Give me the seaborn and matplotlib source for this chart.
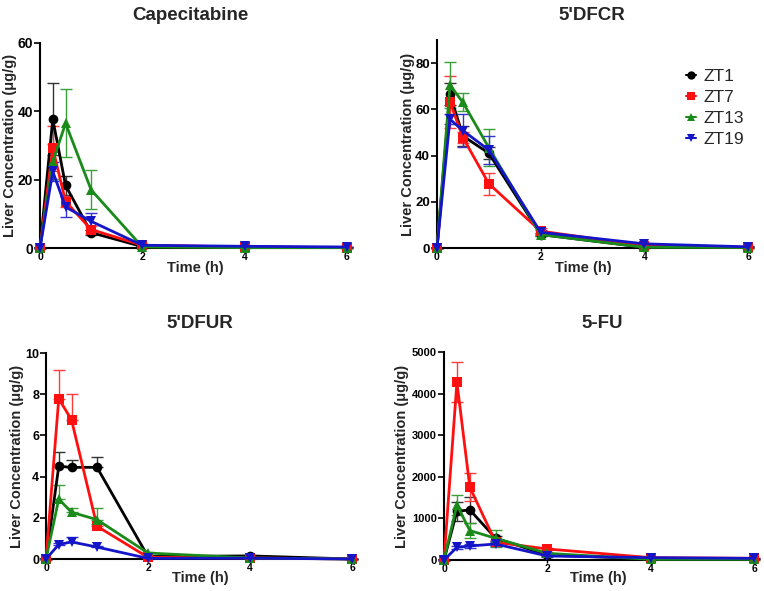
import numpy as np
import pandas as pd
import matplotlib
matplotlib.use("Agg")
import matplotlib.pyplot as plt
from matplotlib.lines import Line2D
import seaborn as sns

# ---------------- data ----------------
times = [0, 0.25, 0.5, 1, 2, 4, 6]
groups = ["ZT1", "ZT7", "ZT13", "ZT19"]

cap_zt1 = [0, 37.7, 18.3, 4.5, 0.4, 0.3, 0.1]
cap_zt7 = [0, 29.2, 13.6, 5.4, 0.8, 0.3, 0.1]
cap_zt13 = [0, 25.3, 36.5, 17.0, 0.3, 0.1, 0.1]
cap_zt19 = [0, 22.4, 12.0, 7.8, 0.8, 0.5, 0.3]
cap_err1 = [0, 10.6, 2.7, 0.8, 0.2, 0.1, 0.05]
cap_err7 = [0, 6.6, 1.5, 0.9, 0.3, 0.1, 0.05]
cap_err13 = [0, 5.0, 10.0, 5.7, 0.2, 0.05, 0.05]
cap_err19 = [0, 2.9, 3.0, 2.4, 0.3, 0.2, 0.1]

dfcr_zt1 = [0, 66.6, 48.5, 41.0, 5.8, 0.3, 0.2]
dfcr_zt7 = [0, 63.2, 47.8, 27.8, 7.3, 1.0, 0.3]
dfcr_zt13 = [0, 70.5, 63.0, 43.4, 5.8, 0.3, 0.2]
dfcr_zt19 = [0, 55.7, 50.8, 42.4, 6.8, 1.8, 0.5]
dfcr_err1 = [0, 4.8, 4.5, 2.5, 0.8, 0.2, 0.1]
dfcr_err7 = [0, 11.3, 2.5, 4.8, 1.2, 0.3, 0.1]
dfcr_err13 = [0, 10.0, 3.9, 8.0, 0.8, 0.1, 0.1]
dfcr_err19 = [0, 2.2, 7.1, 6.1, 1.0, 0.5, 0.2]

dfur_zt1 = [0, 4.5, 4.45, 4.45, 0.12, 0.15, 0.0]
dfur_zt7 = [0, 7.78, 6.76, 1.59, 0.08, 0.05, 0.0]
dfur_zt13 = [0, 2.91, 2.27, 1.91, 0.29, 0.05, 0.0]
dfur_zt19 = [0, 0.70, 0.83, 0.58, 0.03, 0.04, 0.0]
dfur_err1 = [0, 0.7, 0.37, 0.5, 0.03, 0.03, 0]
dfur_err7 = [0, 1.41, 1.27, 0.1, 0.02, 0.02, 0]
dfur_err13 = [0, 0.69, 0.21, 0.57, 0.03, 0.02, 0]
dfur_err19 = [0, 0.08, 0.22, 0.05, 0.02, 0.01, 0]

fu_zt1 = [0, 1170, 1204, 522, 120, 25, 20]
fu_zt7 = [0, 4272, 1750, 425, 265, 56, 40]
fu_zt13 = [0, 1325, 707, 522, 160, 16, 16]
fu_zt19 = [0, 305, 337, 385, 96, 56, 40]
fu_err1 = [0, 230, 322, 60, 20, 5, 5]
fu_err7 = [0, 482, 338, 60, 30, 10, 5]
fu_err13 = [0, 241, 176, 201, 30, 5, 5]
fu_err19 = [0, 40, 50, 40, 15, 10, 5]

titles = ["Capecitabine", "5'DFCR", "5'DFUR", "5-FU"]
x_ticks = [0, 2, 4, 6]
y_ticks = [[0, 20, 40, 60], [0, 20, 40, 60, 80], [0, 2, 4, 6, 8, 10],
           [0, 1000, 2000, 3000, 4000, 5000]]
y_max = [60, 90, 10, 5000]

panel_means = [
    [cap_zt1, cap_zt7, cap_zt13, cap_zt19],
    [dfcr_zt1, dfcr_zt7, dfcr_zt13, dfcr_zt19],
    [dfur_zt1, dfur_zt7, dfur_zt13, dfur_zt19],
    [fu_zt1, fu_zt7, fu_zt13, fu_zt19],
]
panel_errs = [
    [cap_err1, cap_err7, cap_err13, cap_err19],
    [dfcr_err1, dfcr_err7, dfcr_err13, dfcr_err19],
    [dfur_err1, dfur_err7, dfur_err13, dfur_err19],
    [fu_err1, fu_err7, fu_err13, fu_err19],
]

# ---------------- style ----------------
sns.set_theme(style="ticks")
plt.rcParams["font.family"] = ["Liberation Sans", "DejaVu Sans"]

colors = {"ZT1": "#000000", "ZT7": "#ff1010", "ZT13": "#1a8a1a", "ZT19": "#1515c8"}
err_colors = {"ZT1": "#333333", "ZT7": "#ff3a3a", "ZT13": "#3aa03a", "ZT19": "#3535d0"}
markers = {"ZT1": "o", "ZT7": "s", "ZT13": "^", "ZT19": "v"}

W, H = 764, 591
fig = plt.figure(figsize=(W / 100, H / 100), dpi=100)

# pixel boxes: left, right, top, bottom
boxes = [(40, 347, 43, 248), (437, 748, 40, 248), (46, 352, 353, 559), (444, 754, 352, 560)]
title_pos = [(190, 15), (592, 15), (200, 323), (602, 323)]
xlabel_pos = [(195, 268), (583, 268), (200, 578), (598, 578)]
ylabel_x = [10, 408, 17, 402]
ytick_size = [10, 9.5, 9, 8]
upper_only = [False, False, True, False]

for i in range(4):
    l, r, t, b = boxes[i]
    ax = fig.add_axes([l / W, 1 - b / H, (r - l) / W, (b - t) / H])
    rows = []
    for g, vals in zip(groups, panel_means[i]):
        for tt, v in zip(times, vals):
            rows.append({"Time": tt, "Conc": v, "Group": g})
    df = pd.DataFrame(rows)

    for g, vals, errs in zip(groups, panel_means[i], panel_errs[i]):
        lower = np.zeros(len(errs)) if upper_only[i] else np.array(errs)
        ax.errorbar(times, vals, yerr=[lower, np.array(errs)], fmt="none",
                    ecolor=err_colors[g], elinewidth=1.0, capsize=4, capthick=1.0,
                    zorder=2, clip_on=False)

    sns.lineplot(data=df, x="Time", y="Conc", hue="Group", style="Group",
                 hue_order=groups, style_order=groups, palette=colors,
                 markers=markers, dashes=False, linewidth=2.0, markersize=7,
                 markeredgewidth=0, ax=ax, legend=False, zorder=3, clip_on=False)

    ax.set_xlim(0, 6)
    ax.set_ylim(0, y_max[i])
    ax.set_xticks(x_ticks)
    ax.set_yticks(y_ticks[i])
    ax.set_xticklabels([str(v) for v in x_ticks], fontsize=7.5, fontweight="bold")
    ax.set_yticklabels([str(v) for v in y_ticks[i]], fontsize=ytick_size[i], fontweight="bold")
    ax.tick_params(axis="y", length=4, width=1.2, pad=1, colors="black")
    ax.tick_params(axis="x", length=2, width=1.0, pad=1, colors="black")
    for s in ["left", "bottom"]:
        ax.spines[s].set_linewidth(1.5)
        ax.spines[s].set_color("black")
    sns.despine(ax=ax)
    ax.set_xlabel("")
    ax.set_ylabel("")
    ax.set_facecolor("none")

    fig.text(title_pos[i][0] / W, 1 - title_pos[i][1] / H, titles[i],
             ha="center", va="center", fontsize=13.5, fontweight="bold")
    fig.text(xlabel_pos[i][0] / W, 1 - xlabel_pos[i][1] / H, "Time (h)",
             ha="center", va="center", fontsize=10.5, fontweight="bold")
    fig.text(ylabel_x[i] / W, 1 - ((t + b) / 2) / H, "Liver Concentration (\u03bcg/g)",
             ha="center", va="center", rotation=90, fontsize=10.5, fontweight="bold")

    if i == 1:
        handles = [Line2D([], [], color=colors[g], marker=markers[g], linestyle="-",
                          linewidth=1.5, markersize=6, markeredgewidth=0) for g in groups]
        ax.legend(handles, groups, loc="upper left",
                  bbox_to_anchor=((686 - l) / (r - l), 1 - (69 - t) / (b - t)),
                  frameon=False, fontsize=12.5, handlelength=0.6, handletextpad=0.4,
                  labelspacing=0.33, borderaxespad=0, borderpad=0)

fig.savefig("out.png", dpi=100, facecolor="white")
